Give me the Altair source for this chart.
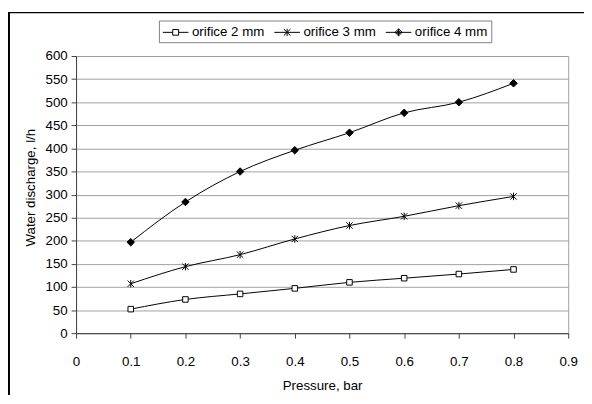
import altair as alt
import pandas as pd

# ---- data ----
pressure = [0.1, 0.2, 0.3, 0.4, 0.5, 0.6, 0.7, 0.8]
orifice_2mm = [52, 73, 85, 97, 110, 119, 128, 138]
orifice_3mm = [107, 144, 170, 204, 233, 253, 276, 296]
orifice_4mm = [197, 284, 350, 396, 434, 477, 500, 541]
series_names = ["orifice 2 mm", "orifice 3 mm", "orifice 4 mm"]
x_ticks = [0, 0.1, 0.2, 0.3, 0.4, 0.5, 0.6, 0.7, 0.8, 0.9]
y_ticks = [0, 50, 100, 150, 200, 250, 300, 350, 400, 450, 500, 550, 600]

rows = []
for name, vals in zip(series_names, [orifice_2mm, orifice_3mm, orifice_4mm]):
    for p, v in zip(pressure, vals):
        rows.append({"series": name, "pressure": p, "discharge": v})
df = pd.DataFrame(rows)

FONT = "Liberation Sans"
FS = 13.5

marker_paths = [
    "M-0.7,-0.7H0.7V0.7H-0.7Z",
    "M0,-0.95V0.95M-0.8,-0.8L0.8,0.8M-0.8,0.8L0.8,-0.8",
    "M0,-0.95L0.95,0L0,0.95L-0.95,0Z",
]
# legend symbols: line with marker in the middle (diamond drawn as dense strokes)
legend_paths = [
    "M-1,0H0.25M1,0H2.25M0.25,-0.36H1V0.36H0.25Z",
    "M-1,0H2.25M0.625,-0.45V0.45M0.2,-0.42L1.05,0.42M0.2,0.42L1.05,-0.42",
    "M-1,0H2.25M0.625,-0.45L1.075,0L0.625,0.45L0.175,0ZM0.625,-0.25L0.875,0L0.625,0.25L0.375,0ZM0.625,-0.45V0.45",
]
fills = ["white", "black", "black"]

x_enc = alt.X(
    "pressure:Q",
    scale=alt.Scale(domain=[0, 0.9], nice=False, zero=False),
    axis=alt.Axis(
        values=x_ticks, format=".1~f", title="Pressure, bar", grid=False,
        labelPadding=17, titlePadding=11,
    ),
)
y_enc = alt.Y(
    "discharge:Q",
    scale=alt.Scale(domain=[0, 600], nice=False),
    axis=alt.Axis(
        values=y_ticks, title="Water discharge, l/h", grid=True,
        labelPadding=4, titleX=-46, titleY=133, titleAngle=270,
        titleAlign="center", titleBaseline="middle", titleFontSize=13.5,
    ),
)

frame_df = pd.DataFrame({"k": [0]})
frame_left = alt.Chart(frame_df).mark_rule(color="black", strokeWidth=2).encode(
    x=alt.value(-68), y=alt.value(-44), y2=alt.value(400)
)
frame_top = alt.Chart(frame_df).mark_rule(color="black", strokeWidth=1.5).encode(
    x=alt.value(-69), x2=alt.value(560), y=alt.value(-44)
)

base = alt.Chart(df)

lines = base.mark_line(color="black", strokeWidth=1, interpolate="monotone").encode(
    x=x_enc, y=y_enc, detail="series:N"
)

points = base.mark_point(filled=False, color="black", stroke="black", strokeWidth=1, opacity=1, size=64).encode(
    x=x_enc,
    y=y_enc,
    shape=alt.Shape("series:N", scale=alt.Scale(domain=series_names, range=marker_paths), legend=None),
    fill=alt.Fill("series:N", scale=alt.Scale(domain=series_names, range=fills), legend=None),
)

leg = alt.Legend(
    title=None, orient="none", legendX=84, legendY=-36, direction="horizontal",
    symbolSize=256, symbolStrokeColor="black", symbolStrokeWidth=1, symbolOpacity=1,
    symbolFillColor="white",
    labelFont=FONT, labelFontSize=FS, labelColor="black", labelOffset=13,
    columnPadding=7, padding=3.5, strokeColor="#808080", fillColor="white",
)

legend_layer = base.transform_filter("false").mark_point(
    filled=False, color="black", stroke="black", strokeWidth=1, opacity=1
).encode(
    shape=alt.Shape("series:N", scale=alt.Scale(domain=series_names, range=legend_paths), legend=leg),
)

chart = alt.layer(frame_left, frame_top, lines, points, legend_layer).resolve_scale(
    shape="independent", fill="independent"
).properties(
    width=499, height=281,
    autosize=alt.AutoSizeParams(type="none"),
    padding={"left": 69, "top": 46, "right": 16, "bottom": 60},
).configure(
    font=FONT, background="white"
).configure_view(
    stroke="#a0a0a0", strokeWidth=1
).configure_axis(
    labelFont=FONT, labelFontSize=FS, labelColor="black",
    titleFont=FONT, titleFontSize=FS, titleFontWeight="normal", titleColor="black",
    domainColor="#404040", tickColor="#404040", tickSize=5, gridColor="#a0a0a0",
    labelFlush=False, labelOverlap=False,
)

chart.save("out.html", embed_options={"renderer": "svg", "actions": False})
